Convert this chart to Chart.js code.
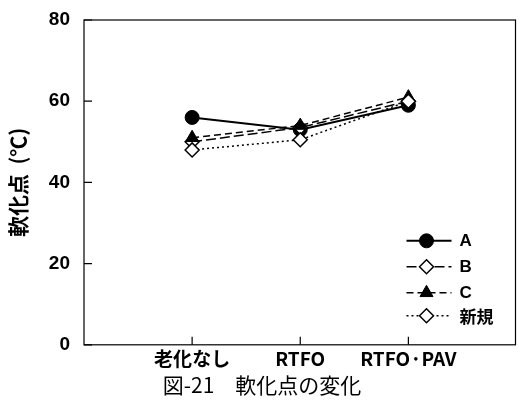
<!DOCTYPE html>
<html>
<head>
<meta charset="utf-8">
<script src="https://cdn.jsdelivr.net/npm/chart.js@4/dist/chart.umd.min.js"></script>
<style>
    html, body { margin: 0; padding: 0; background: #fff; }
    #wrap { width: 525px; height: 408px; }
</style>
</head>
<body>
<div id="wrap"><canvas id="chart" width="525" height="408"></canvas></div>
<script>
// Data
const categories = ['老化なし', 'RTFO', 'RTFO·PAV'];
const seriesNames = ['A', 'B', 'C', '新規'];
const valuesA = [56, 53, 59];
const valuesB = [50, 53.5, 60];
const valuesC = [51, 54, 61];
const valuesNew = [48, 50.5, 60];
const yTicks = [0, 20, 40, 60, 80];

const CJK = '"Noto Sans CJK JP", "Noto Sans", sans-serif';
const LATIN = '"Liberation Sans", Arial, sans-serif';

function toPoints(values) {
    return values.map((v, i) => ({ x: i + 1, y: v }));
}

// Inward tick marks, frame and a legend placed inside the plot area
const framePlugin = {
    id: 'frame',
    afterDatasetsDraw(chart) {
        const ctx = chart.ctx;
        const a = chart.chartArea;
        const xs = chart.scales.x;
        const ys = chart.scales.y;
        ctx.save();
        ctx.strokeStyle = '#000';
        ctx.lineWidth = 1.2;
        ctx.strokeRect(a.left, a.top, a.right - a.left - 1, a.bottom - a.top);
        ctx.beginPath();
        yTicks.forEach(t => {
            const y = ys.getPixelForValue(t);
            ctx.moveTo(a.left, y);
            ctx.lineTo(a.left + 8, y);
        });
        categories.forEach((c, i) => {
            const x = xs.getPixelForValue(i + 1);
            ctx.moveTo(x, a.bottom);
            ctx.lineTo(x, a.bottom - 8);
        });
        ctx.stroke();

        // legend
        const x0 = a.right - 110;
        const rows = [-104, -78, -52, -29];
        chart.data.datasets.forEach((ds, i) => {
            const y = a.bottom + rows[i];
            ctx.beginPath();
            ctx.strokeStyle = '#000';
            ctx.lineWidth = ds.borderWidth;
            ctx.setLineDash(ds.borderDash || []);
            ctx.moveTo(x0, y);
            ctx.lineTo(x0 + 45, y);
            ctx.stroke();
            ctx.setLineDash([]);
            ctx.fillStyle = ds.pointBackgroundColor;
            ctx.lineWidth = ds.pointBorderWidth;
            Chart.helpers.drawPoint(ctx, {
                pointStyle: ds.pointStyle,
                radius: ds.pointRadius,
                borderWidth: ds.pointBorderWidth
            }, x0 + 20, y);
            ctx.fillStyle = '#000';
            ctx.font = 'bold 17px ' + (i === 3 ? CJK : LATIN);
            ctx.textBaseline = 'middle';
            ctx.fillText(ds.label, x0 + 53, y + 1);
        });
        ctx.restore();
    }
};

const datasets = [
    {
        label: seriesNames[0],
        data: toPoints(valuesA),
        borderColor: '#000',
        borderWidth: 2,
        pointStyle: 'circle',
        pointRadius: 7,
        pointBackgroundColor: '#000',
        pointBorderColor: '#000',
        pointBorderWidth: 1
    },
    {
        label: seriesNames[1],
        data: toPoints(valuesB),
        borderColor: '#000',
        borderWidth: 1.5,
        borderDash: [10, 4],
        pointStyle: 'rectRot',
        pointRadius: 7,
        pointBackgroundColor: '#fff',
        pointBorderColor: '#000',
        pointBorderWidth: 1.5
    },
    {
        label: seriesNames[2],
        data: toPoints(valuesC),
        borderColor: '#000',
        borderWidth: 1.5,
        borderDash: [7, 4],
        pointStyle: 'triangle',
        pointRadius: 7.5,
        pointBackgroundColor: '#000',
        pointBorderColor: '#000',
        pointBorderWidth: 1
    },
    {
        label: seriesNames[3],
        data: toPoints(valuesNew),
        borderColor: '#000',
        borderWidth: 1.5,
        borderDash: [2, 3],
        pointStyle: 'rectRot',
        pointRadius: 7,
        pointBackgroundColor: '#fff',
        pointBorderColor: '#000',
        pointBorderWidth: 1.5
    }
];

// Draw open markers last so they stay on top of the lines
datasets.forEach((ds, i) => { ds.order = 4 - i; });

new Chart(document.getElementById('chart'), {
    type: 'line',
    data: { datasets: datasets },
    options: {
        responsive: false,
        animation: false,
        layout: { padding: { top: 0, right: 1, left: 0, bottom: 0 } },
        scales: {
            x: {
                type: 'linear',
                min: 0,
                max: 4,
                afterFit: s => { s.height = 28; },
                grid: { display: false, drawTicks: false },
                border: { display: false },
                ticks: {
                    stepSize: 1,
                    autoSkip: false,
                    maxRotation: 0,
                    padding: 3,
                    color: '#000',
                    font: { family: CJK, size: 19, weight: 'bold' },
                    callback: v => categories[v - 1] || ''
                }
            },
            y: {
                min: 0,
                max: 80,
                afterFit: s => { s.width = 84; s.paddingTop = 20; },
                grid: { display: false, drawTicks: false },
                border: { display: false },
                ticks: {
                    stepSize: 20,
                    padding: 14,
                    color: '#000',
                    font: { family: LATIN, size: 19, weight: 'bold' }
                },
                title: {
                    display: true,
                    text: '軟化点  (℃)',
                    color: '#000',
                    padding: { top: 5, bottom: 0 },
                    font: { family: CJK, size: 21, weight: 'bold' }
                }
            }
        },
        plugins: {
            legend: { display: false },
            tooltip: { enabled: false },
            title: {
                display: true,
                position: 'bottom',
                text: '図-21　軟化点の変化',
                color: '#000',
                padding: { top: 0, bottom: 10 },
                font: { family: CJK, size: 21, weight: 'normal' }
            }
        }
    },
    plugins: [framePlugin]
});
</script>
</body>
</html>
